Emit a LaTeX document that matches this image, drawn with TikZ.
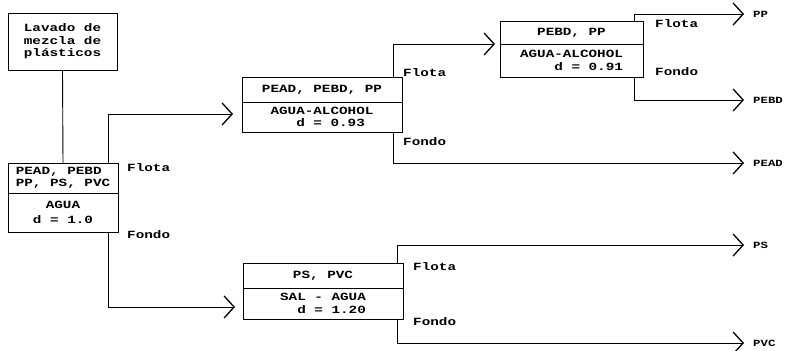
\documentclass[tikz,border=0pt]{standalone}
\usepackage{fontspec}
\setmonofont{Liberation Mono}[FakeStretch=1.3]
\usetikzlibrary{positioning, arrows.meta}

\begin{document}
\begin{tikzpicture}[
        yscale=-1,
        boxPart/.style={draw, line width=0.9pt, fill=white, inner sep=2pt, outer sep=0pt, font=\ttfamily\bfseries\fontsize{11}{12.5}\selectfont},
        lbl/.style={inner sep=0pt, font=\ttfamily\bfseries\fontsize{11}{12.5}\selectfont},
        outLbl/.style={inner sep=1pt, anchor=west, font=\ttfamily\bfseries\fontsize{9.5}{11}\selectfont},
        link/.style={line width=0.9pt},
        flow/.style={line width=0.9pt, arrows={-Straight Barb[length=10pt, width=22pt, line width=1.3pt]}}
    ]
        \useasboundingbox (0pt,0pt) rectangle (788pt,351pt);

        \node[boxPart, align=left, minimum width=109pt, minimum height=57pt] (lav) at (62.5pt,41.5pt) {Lavado de\\mezcla de\\plásticos};

        \node[boxPart, align=left, minimum width=110pt, minimum height=30pt] (b2t) at (63pt,178pt) {PEAD, PEBD\\PP, PS, PVC};
        \node[boxPart, align=center, minimum width=110pt, minimum height=39pt, below=0pt of b2t] (b2b) {AGUA\\[3pt]d = 1.0};

        \node[boxPart, minimum width=160pt, minimum height=25pt] (b3t) at (322pt,89.5pt) {PEAD, PEBD, PP};
        \node[boxPart, align=center, minimum width=160pt, minimum height=30pt, below=0pt of b3t] (b3b) {AGUA-ALCOHOL\\\ \ d = 0.93};

        \node[boxPart, minimum width=160pt, minimum height=25pt] (b4t) at (323pt,275.5pt) {PS, PVC};
        \node[boxPart, align=right, minimum width=160pt, minimum height=31pt, below=0pt of b4t] (b4b) {SAL - AGUA\\d = 1.20};

        \node[boxPart, minimum width=143pt, minimum height=23pt] (b5t) at (571.5pt,32.5pt) {PEBD, PP};
        \node[boxPart, align=right, minimum width=143pt, minimum height=33pt, below=0pt of b5t] (b5b) {AGUA-ALCOHOL\\d = 0.91};

        % productos separados
        \node[outLbl] (pp) at (752pt,14pt) {PP};
        \node[outLbl] (pebd) at (752pt,100pt) {PEBD};
        \node[outLbl] (pead) at (752pt,163pt) {PEAD};
        \node[outLbl] (ps) at (752pt,245pt) {PS};
        \node[outLbl] (pvc) at (752pt,343pt) {PVC};

        \node[lbl, right=9pt of b2t.north east, yshift=-5pt] (fl2) {Flota};
        \node[lbl, right=9pt of b2b.south east, yshift=-3pt] (fo2) {Fondo};
        \node[lbl, right=1pt of b3t.north east, yshift=4pt] (fl3) {Flota};
        \node[lbl, right=1pt of b3b.south east, yshift=-10pt] (fo3) {Fondo};
        \node[lbl, right=10pt of b4t.north east, yshift=-4pt] (fl4) {Flota};
        \node[lbl, right=10pt of b4b.south east, yshift=-3pt] (fo4) {Fondo};
        \node[lbl, right=12pt of b5t.north east, yshift=-3pt] (fl5) {Flota};
        \node[lbl, right=12pt of b5b.south east, yshift=5pt] (fo5) {Fondo};

        \draw[link] (lav.south) -- (b2t.north);

        \draw[flow, shorten >=9pt] ([xshift=-10pt]b2t.north east) |- ([yshift=-3pt]b3b.west);
        \draw[flow, shorten >=8pt] ([xshift=-10pt]b2b.south east) |- ([yshift=3.5pt]b4b.west);

        \draw[flow, shorten >=5pt] ([xshift=-9pt]b3t.north east) |- (b5b.north west);
        \draw[flow, shorten >=8pt] ([xshift=-9pt]b3b.south east) |- (pead.west);

        \draw[flow, shorten >=8pt] ([xshift=-6pt]b4t.north east) |- (ps.west);
        \draw[flow, shorten >=8pt] ([xshift=-6pt]b4b.south east) |- (pvc.west);

        \draw[flow, shorten >=8pt] ([xshift=-9pt]b5t.north east) |- (pp.west);
        \draw[flow, shorten >=8pt] ([xshift=-9pt]b5b.south east) |- (pebd.west);
    \end{tikzpicture}
\end{document}
